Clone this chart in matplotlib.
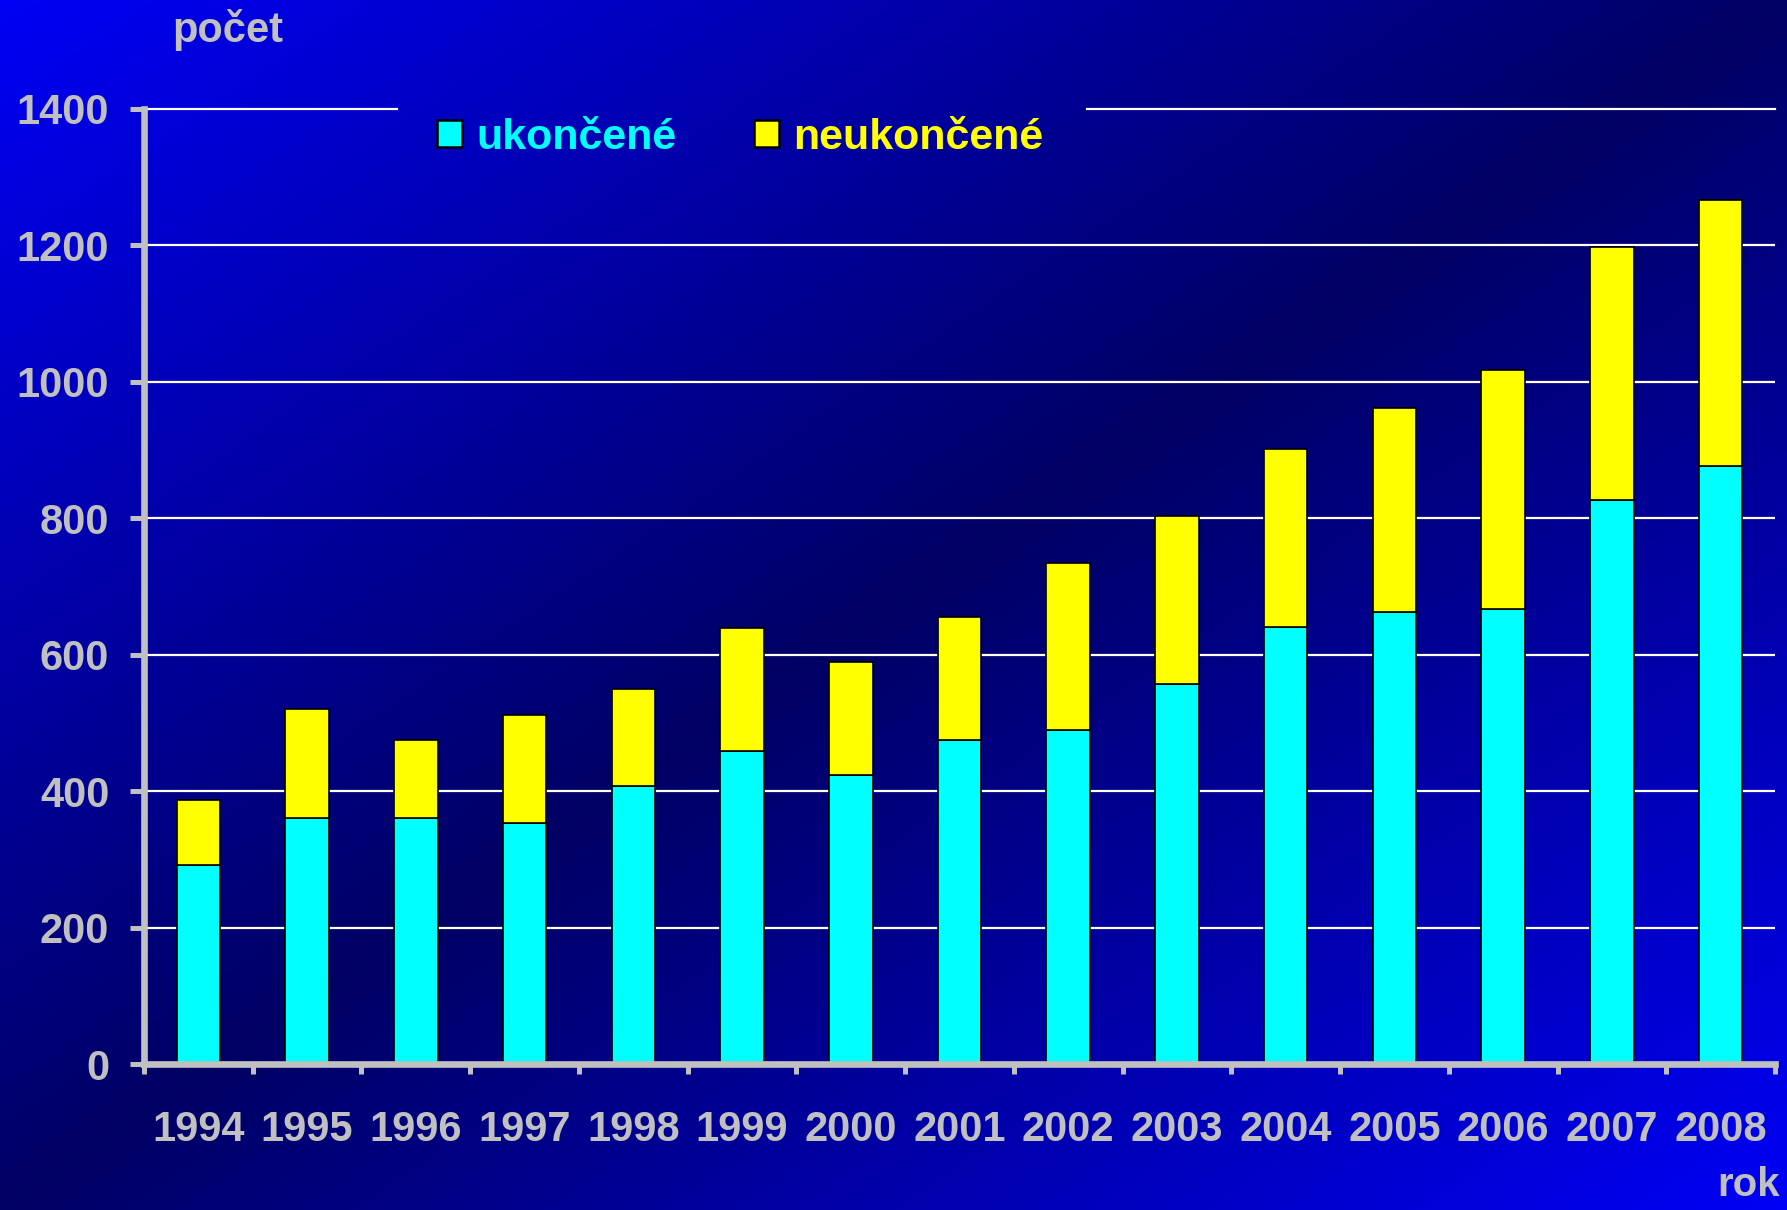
import numpy as np
import matplotlib
matplotlib.use("Agg")
import matplotlib.pyplot as plt
from matplotlib.patches import Patch

plt.rcParams['font.family'] = ['Liberation Sans', 'DejaVu Sans']
plt.rcParams['font.weight'] = 'bold'

years = ['1994', '1995', '1996', '1997', '1998', '1999', '2000', '2001',
         '2002', '2003', '2004', '2005', '2006', '2007', '2008']
ukoncene = [291, 361, 361, 354, 407, 459, 423, 475, 489, 557, 640, 663, 667, 827, 877]
neukoncene = [96, 160, 114, 157, 143, 180, 167, 181, 246, 247, 262, 299, 350, 370, 389]
yticks = [0, 200, 400, 600, 800, 1000, 1200, 1400]

W, H = 1787, 1210
fig = plt.figure(figsize=(W / 100, H / 100), dpi=100)

# background diagonal gradient
bg = fig.add_axes([0, 0, 1, 1], zorder=-10)
xx, yy = np.meshgrid(np.linspace(0, 1, 400), np.linspace(0, 1, 300))
t = (xx + yy) / 2
f = 1 - np.abs(2 * t - 1)
bright, dark = 245, 100
b = (bright + (dark - bright) * f) / 255
img = np.dstack([np.zeros_like(b), np.zeros_like(b), b])
bg.imshow(img, aspect='auto', extent=[0, 1, 0, 1], origin='upper')
bg.axis('off')

L, R, B, T = 144 / W, 1775 / W, 1 - 1064 / H, 1 - 109 / H
ax = fig.add_axes([L, B, R - L, T - B])
ax.set_facecolor('none')

x = np.arange(len(years))
gray = '#C0C0C0'
ax.bar(x, ukoncene, width=0.4, color='#00FFFF', edgecolor='black', linewidth=1.2, zorder=3)
ax.bar(x, neukoncene, width=0.4, bottom=ukoncene, color='#FFFF00', edgecolor='black',
       linewidth=1.2, zorder=3)

ax.set_xlim(-0.5, len(years) - 0.5)
ax.set_ylim(0, 1400)

for v in yticks[1:-1]:
    ax.axhline(v, color='white', lw=1.6, zorder=1)
ax.axhline(yticks[-1], xmin=0, xmax=0.155, color='white', lw=1.6, zorder=1, clip_on=False)
ax.axhline(yticks[-1], xmin=0.578, xmax=1, color='white', lw=1.6, zorder=1, clip_on=False)

for s in ['top', 'right']:
    ax.spines[s].set_visible(False)
for s in ['left', 'bottom']:
    ax.spines[s].set_color(gray)
    ax.spines[s].set_linewidth(4.8)
    ax.spines[s].set_zorder(4)

ax.set_yticks(yticks)
ax.set_yticklabels([str(v) for v in yticks])
ax.tick_params(axis='y', direction='out', length=10, width=3.6, color=gray,
               labelcolor=gray, labelsize=30, pad=15)
ax.set_xticks(x)
ax.set_xticklabels(years)
ax.set_xticks(np.arange(-0.5, len(years)), minor=True)
ax.tick_params(axis='x', which='major', length=0, labelcolor=gray, labelsize=30, pad=33)
ax.tick_params(axis='x', which='minor', direction='out', length=7, width=3.6, color=gray)
for lab in ax.get_xticklabels() + ax.get_yticklabels():
    lab.set_fontweight('bold')

handles = [Patch(facecolor='#00FFFF', edgecolor='black', linewidth=1.8),
           Patch(facecolor='#FFFF00', edgecolor='black', linewidth=1.8)]
leg = fig.legend(handles, ['ukončené', 'neukončené'], loc='center left',
                 bbox_to_anchor=(437 / W, 1 - 138 / H), ncol=2, frameon=False,
                 prop={'size': 31, 'weight': 'bold'}, borderpad=0, borderaxespad=0,
                 handlelength=0.58, handleheight=0.58, handletextpad=0.33,
                 columnspacing=1.8)
leg.get_texts()[0].set_color('#00FFFF')
leg.get_texts()[1].set_color('#FFFF00')

fig.text(172 / W, 1 - 42 / H, 'počet', color=gray, fontsize=30, fontweight='bold',
         ha='left', va='baseline')
fig.text(1780 / W, 1 - 1196 / H, 'rok', color=gray, fontsize=29, fontweight='bold',
         ha='right', va='baseline')

fig.savefig('out.png', dpi=100)
